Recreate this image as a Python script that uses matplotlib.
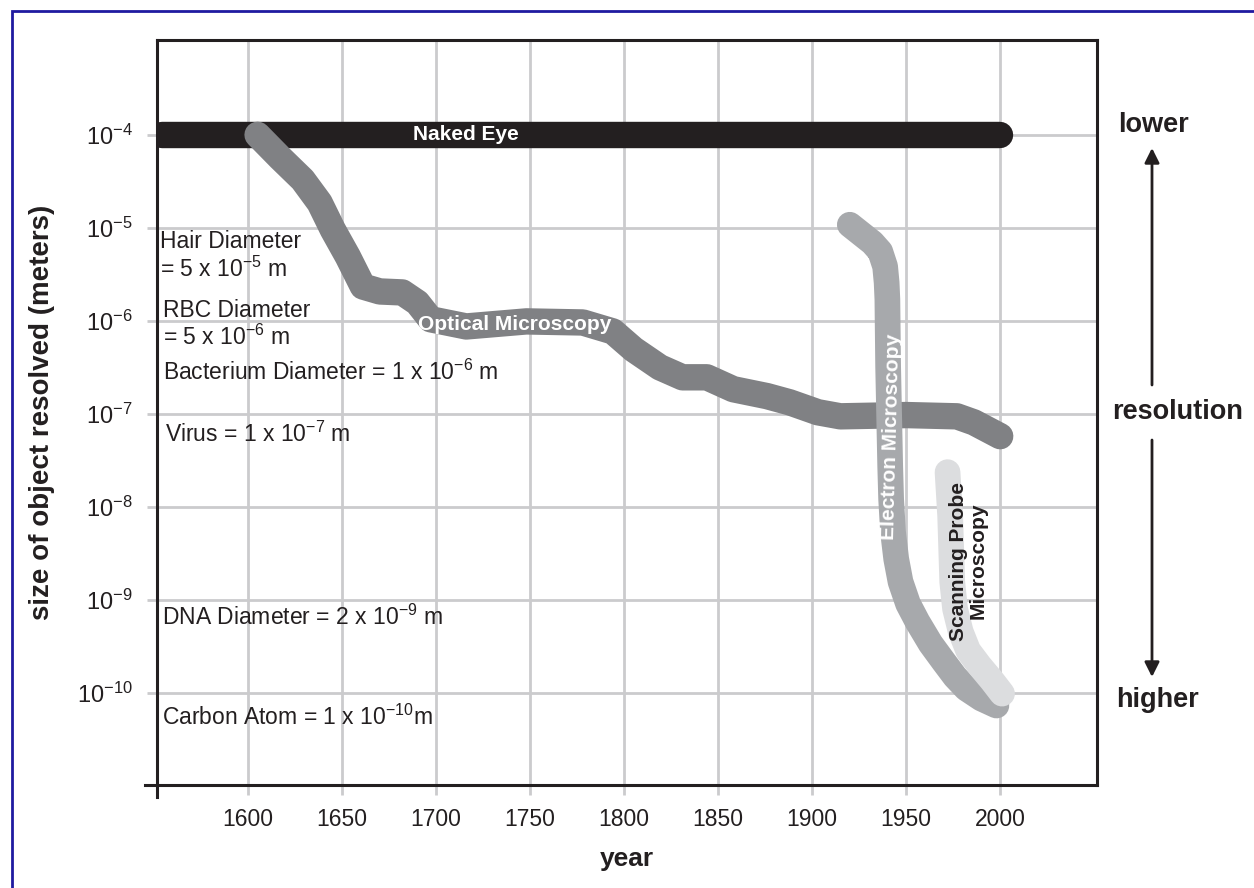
import matplotlib
matplotlib.use("Agg")
import matplotlib.pyplot as plt
from matplotlib.ticker import FixedLocator, FixedFormatter, NullLocator
from matplotlib.patches import Rectangle
from matplotlib.lines import Line2D

plt.rcParams['font.family'] = ['Liberation Sans', 'DejaVu Sans']
plt.rcParams['mathtext.fontset'] = 'custom'
plt.rcParams['mathtext.rm'] = 'Liberation Sans'
plt.rcParams['mathtext.it'] = 'Liberation Sans'
plt.rcParams['mathtext.bf'] = 'Liberation Sans:bold'

# ---------------- data ----------------
naked_years = [1554, 2000]
naked_size = [1.0e-4, 1.0e-4]

optical_years = [1605, 1617, 1629, 1638, 1645, 1653, 1661, 1670, 1682, 1690,
                 1697, 1716, 1748, 1778, 1794, 1805, 1819, 1831, 1844, 1858,
                 1876, 1888, 1903, 1915, 1950, 1977, 1986, 2000]
optical_size = [1.0e-4, 5.66e-5, 3.29e-5, 1.86e-5, 9.57e-6, 4.91e-6, 2.34e-6,
                2.07e-6, 2.02e-6, 1.57e-6, 1.04e-6, 8.7e-7, 9.86e-7, 9.6e-7,
                7.69e-7, 4.93e-7, 3.16e-7, 2.47e-7, 2.47e-7, 1.84e-7, 1.55e-7,
                1.33e-7, 1.04e-7, 9.4e-8, 9.7e-8, 9.4e-8, 8.1e-8, 5.75e-8]

electron_years = [1920, 1932, 1936.2, 1938.8, 1939.6, 1940, 1940.4, 1941.5,
                  1942, 1943, 1944.7, 1947, 1951, 1956, 1963, 1970, 1976,
                  1982, 1990, 1998]
electron_size = [1.08e-5, 6.93e-6, 5.56e-6, 3.84e-6, 2.58e-6, 1.70e-6, 3.24e-7,
                 2.74e-8, 1.21e-8, 5.37e-9, 2.75e-9, 1.56e-9, 9.06e-10,
                 5.81e-10, 3.37e-10, 2.16e-10, 1.49e-10, 1.11e-10, 8.67e-11,
                 7.3e-11]

probe_years = [1972, 1973.4, 1974.5, 1976, 1979, 1983, 1989, 1995.7, 2001]
probe_size = [2.36e-8, 7.96e-9, 1.56e-9, 8.0e-10, 4.54e-10, 2.84e-10,
              1.96e-10, 1.35e-10, 9.8e-11]

x_ticks = [1600, 1650, 1700, 1750, 1800, 1850, 1900, 1950, 2000]
x_tick_labels = ['1600', '1650', '1700', '1750', '1800', '1850', '1900', '1950', '2000']
y_ticks = [1e-4, 1e-5, 1e-6, 1e-7, 1e-8, 1e-9, 1e-10]
y_tick_labels = [r'$10^{-4}$', r'$10^{-5}$', r'$10^{-6}$', r'$10^{-7}$',
                 r'$10^{-8}$', r'$10^{-9}$', r'$10^{-10}$']

reference_labels = [
    'Hair Diameter',
    r'= 5 x 10$^{-5}$ m',
    'RBC Diameter',
    r'= 5 x 10$^{-6}$ m',
    r'Bacterium Diameter = 1 x 10$^{-6}$ m',
    r'Virus = 1 x 10$^{-7}$ m',
    r'DNA Diameter = 2 x 10$^{-9}$ m',
    r'Carbon Atom = 1 x 10$^{-10}$m',
]
# positions in pixels (x, baseline y) in the 1254x888 frame
reference_pos = [(160, 248), (160, 277), (163, 317), (163, 345),
                 (163, 380), (165, 442), (162, 625), (162, 725)]

# ---------------- figure ----------------
W, H = 1254, 888
fig = plt.figure(figsize=(W / 100, H / 100), dpi=100)
fig.patch.set_facecolor('white')

L, R, T, B = 157, 1097, 40, 785
ax = fig.add_axes([L / W, 1 - B / H, (R - L) / W, (B - T) / H])

ax.set_yscale('log')
ax.set_xlim(1551.5, 2051.5)
ax.set_ylim(1.02e-11, 1.047e-3)

ax.xaxis.set_major_locator(FixedLocator(x_ticks))
ax.xaxis.set_major_formatter(FixedFormatter(x_tick_labels))
ax.yaxis.set_major_locator(FixedLocator(y_ticks))
ax.yaxis.set_major_formatter(FixedFormatter(y_tick_labels))
ax.yaxis.set_minor_locator(NullLocator())
ax.xaxis.set_minor_locator(NullLocator())

grid_col = '#cbcbcd'
ax.grid(True, color=grid_col, lw=2.0)
ax.set_axisbelow(True)
ax.tick_params(axis='both', which='major', direction='out', length=7.5,
               width=2.0, color=grid_col)
ax.tick_params(axis='x', labelsize=16.5, pad=9, labelcolor='#231f20')
ax.tick_params(axis='y', labelsize=17, pad=10, labelcolor='#231f20')

for sp in ax.spines.values():
    sp.set_color('#231f20')
    sp.set_linewidth(2.2)

# spine extensions (left spine below bottom, bottom spine left of left)
ax.add_line(Line2D([0, 0], [0, -12 / (B - T)], transform=ax.transAxes,
                   color='#231f20', lw=2.2, clip_on=False))
ax.add_line(Line2D([-12 / (R - L), 0], [0, 0], transform=ax.transAxes,
                   color='#231f20', lw=2.2, clip_on=False))

# ---------------- curves ----------------
ax.plot(naked_years, naked_size, color='#231f20', lw=19,
        solid_capstyle='round', zorder=3)
ax.plot(optical_years, optical_size, color='#808184', lw=19,
        solid_capstyle='round', solid_joinstyle='round', zorder=4)
ax.plot(electron_years, electron_size, color='#a7a9ac', lw=18.5,
        solid_capstyle='round', solid_joinstyle='round', zorder=5)
ax.plot(probe_years, probe_size, color='#dcdddf', lw=18.5,
        solid_capstyle='round', solid_joinstyle='round', zorder=6)

# curve labels
ax.text(1716, 1.0e-4, 'Naked Eye', color='white', fontsize=15,
        fontweight='bold', ha='center', va='center', zorder=7)
ax.text(1742, 9.1e-7, 'Optical Microscopy', color='white', fontsize=15,
        fontweight='bold', ha='center', va='center', zorder=7)
ax.text(1942, 5.7e-8, 'Electron Microscopy', color='white', fontsize=15,
        fontweight='bold', ha='center', va='center', rotation=88.5, zorder=7)
ax.text(1983, 2.6e-9, 'Scanning Probe\nMicroscopy', color='#231f20',
        fontsize=15, fontweight='bold', ha='center', va='center',
        rotation=90, multialignment='center', linespacing=1.0, zorder=7)

# reference object labels
for txt, (px, py) in zip(reference_labels, reference_pos):
    ax.text((px - L) / (R - L), (B - py) / (B - T), txt, transform=ax.transAxes,
            fontsize=16.5, color='#231f20', ha='left', va='baseline', zorder=8)

# axis labels
ax.set_xlabel('year', fontsize=19, fontweight='bold', color='#231f20')
ax.xaxis.label.set_verticalalignment('center')
ax.xaxis.set_label_coords(0.5, (B - 859) / (B - T))
ax.set_ylabel('size of object resolved (meters)', fontsize=20,
              fontweight='bold', color='#231f20')
ax.yaxis.label.set_verticalalignment('center')
ax.yaxis.set_label_coords((42 - L) / (R - L), 0.5)

# right-hand resolution annotation
fig.text(1153 / W, 1 - 125 / H, 'lower', fontsize=19.5, fontweight='bold',
         ha='center', va='center', color='#231f20')
fig.text(1178 / W, 1 - 412 / H, 'resolution', fontsize=19.5, fontweight='bold',
         ha='center', va='center', color='#231f20')
fig.text(1158 / W, 1 - 700 / H, 'higher', fontsize=19.5, fontweight='bold',
         ha='center', va='center', color='#231f20')
arrow_kw = dict(arrowstyle='-|>', lw=2.0, color='#231f20', mutation_scale=22,
                shrinkA=0, shrinkB=0)
ax.annotate('', xy=(1152 / W, 1 - 148 / H), xytext=(1152 / W, 1 - 385 / H),
            xycoords='figure fraction', textcoords='figure fraction',
            arrowprops=arrow_kw, annotation_clip=False)
ax.annotate('', xy=(1152 / W, 1 - 677 / H), xytext=(1152 / W, 1 - 440 / H),
            xycoords='figure fraction', textcoords='figure fraction',
            arrowprops=arrow_kw, annotation_clip=False)

# figure border (blue frame)
fig.patches.append(Rectangle((12 / W, -0.05), 1.1, 1 - 11 / H + 0.05,
                             transform=fig.transFigure, fill=False,
                             edgecolor='#1f1aa0', lw=2.0))

fig.savefig('out.png', dpi=100, facecolor='white')
